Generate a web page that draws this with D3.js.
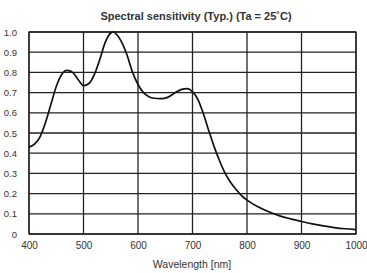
<!DOCTYPE html>
<html>
<head>
<meta charset="utf-8">
<script src="https://cdn.jsdelivr.net/npm/d3@7"></script>
<style>
  body { margin: 0; background: #fff; }
  svg { display: block; font-family: "Liberation Sans", Arial, sans-serif; }
</style>
</head>
<body>
<svg id="chart" width="367" height="273"></svg>
<script>
const wavelength = [400, 410, 420, 430, 440, 450, 460, 470, 480, 490, 500, 510, 520, 530, 540, 550, 555, 560, 570, 580, 590, 600, 610, 620, 630, 640, 650, 660, 670, 680, 690, 700, 710, 720, 730, 740, 750, 760, 770, 780, 790, 800, 820, 840, 860, 880, 900, 920, 940, 960, 980, 1000];
const sensitivity = [0.43, 0.445, 0.48, 0.55, 0.64, 0.73, 0.79, 0.81, 0.80, 0.765, 0.735, 0.745, 0.79, 0.865, 0.95, 0.995, 1.0, 0.99, 0.95, 0.885, 0.80, 0.74, 0.70, 0.68, 0.672, 0.67, 0.673, 0.685, 0.703, 0.716, 0.72, 0.705, 0.665, 0.595, 0.51, 0.43, 0.36, 0.30, 0.255, 0.22, 0.19, 0.168, 0.135, 0.11, 0.09, 0.075, 0.062, 0.05, 0.04, 0.032, 0.026, 0.022];
const xTicks = [400, 500, 600, 700, 800, 900, 1000];
const yTicks = [0, 0.1, 0.2, 0.3, 0.4, 0.5, 0.6, 0.7, 0.8, 0.9, 1.0];

const svg = d3.select('#chart');
const plotLeft = 29, plotRight = 356, plotTop = 32, plotBottom = 234;

const x = d3.scaleLinear().domain([400, 1000]).range([plotLeft, plotRight]);
const y = d3.scaleLinear().domain([0, 1]).range([plotBottom, plotTop]);

// grid
svg.append('g')
  .selectAll('line')
  .data(xTicks)
  .join('line')
  .attr('x1', d => x(d)).attr('x2', d => x(d))
  .attr('y1', plotTop).attr('y2', plotBottom)
  .attr('stroke', '#222').attr('stroke-width', 1.3);

svg.append('g')
  .selectAll('line')
  .data(yTicks)
  .join('line')
  .attr('x1', plotLeft).attr('x2', plotRight)
  .attr('y1', d => y(d)).attr('y2', d => y(d))
  .attr('stroke', '#222').attr('stroke-width', 1.3);

svg.append('rect')
  .attr('x', plotLeft).attr('y', plotTop)
  .attr('width', plotRight - plotLeft).attr('height', plotBottom - plotTop)
  .attr('fill', 'none').attr('stroke', '#222').attr('stroke-width', 1.3);

// axes labels
const yAxis = svg.append('g')
  .attr('transform', `translate(${plotLeft},0)`)
  .call(d3.axisLeft(y).tickValues(yTicks).tickSize(0).tickPadding(12)
    .tickFormat(d => d === 0 ? '0' : d3.format('.1f')(d)));
yAxis.select('.domain').remove();
yAxis.selectAll('text').attr('font-size', 9.5).attr('fill', '#333')
  .style('font-family', '"Liberation Sans", Arial, sans-serif');

const xAxis = svg.append('g')
  .attr('transform', `translate(0,${plotBottom})`)
  .call(d3.axisBottom(x).tickValues(xTicks).tickSize(0).tickPadding(8)
    .tickFormat(d3.format('d')));
xAxis.select('.domain').remove();
xAxis.selectAll('text').attr('font-size', 10).attr('fill', '#333')
  .style('font-family', '"Liberation Sans", Arial, sans-serif');

// curve
const line = d3.line()
  .x((d, i) => x(wavelength[i]))
  .y(d => y(d))
  .curve(d3.curveMonotoneX);

svg.append('path')
  .datum(sensitivity)
  .attr('d', line)
  .attr('fill', 'none')
  .attr('stroke', '#111')
  .attr('stroke-width', 1.7);

svg.append('text')
  .attr('x', 196).attr('y', 20)
  .attr('text-anchor', 'middle')
  .attr('font-size', 11).attr('font-weight', 'bold').attr('fill', '#333')
  .text('Spectral sensitivity (Typ.) (Ta = 25\u02daC)');

svg.append('text')
  .attr('x', 192).attr('y', 268)
  .attr('text-anchor', 'middle')
  .attr('font-size', 10.5).attr('fill', '#333')
  .text('Wavelength [nm]');
</script>
</body>
</html>
